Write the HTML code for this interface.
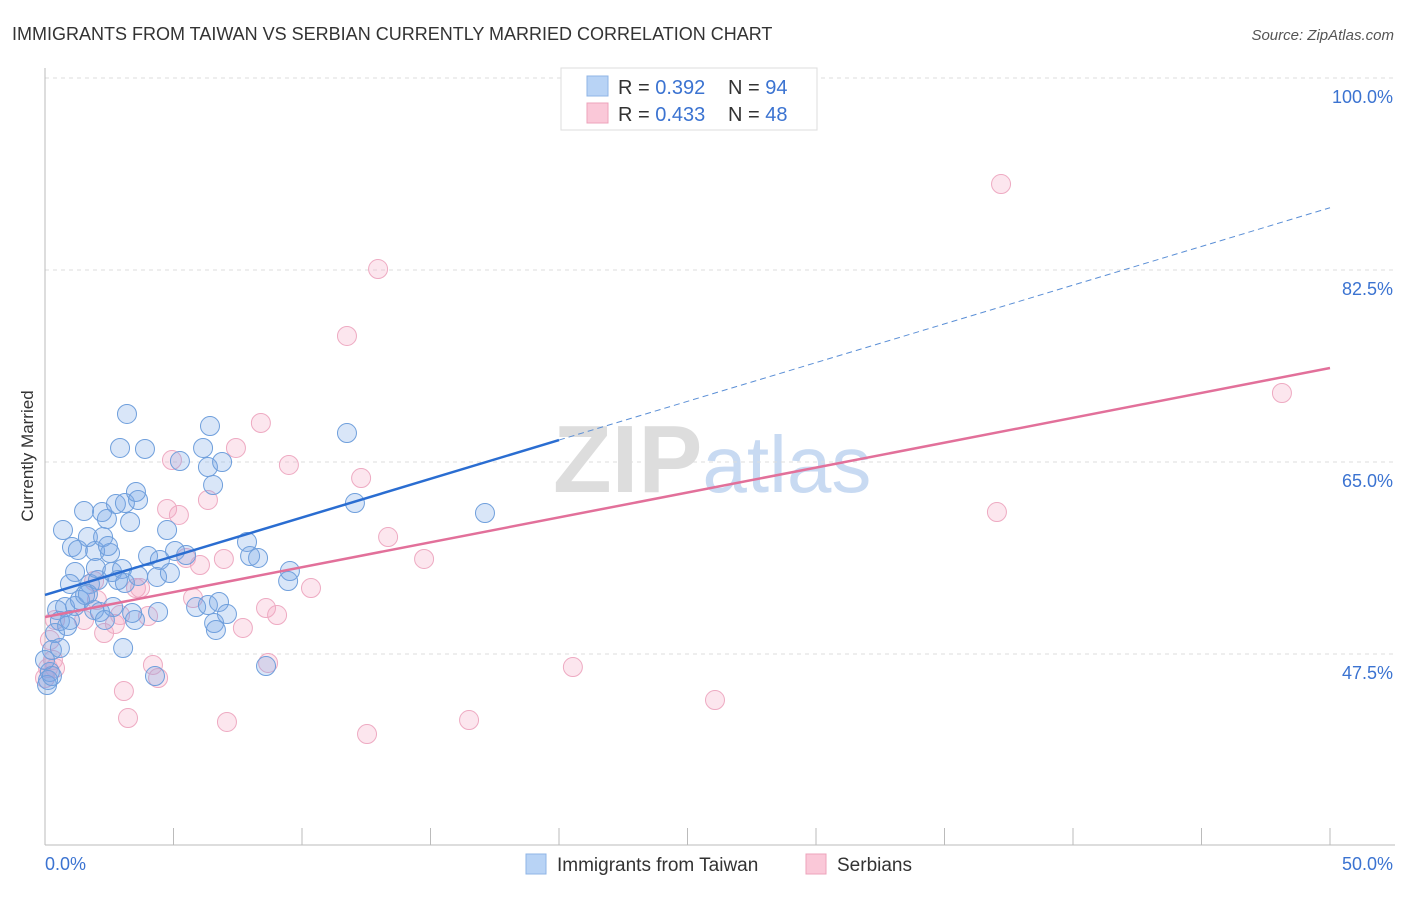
<!DOCTYPE html>
<html><head><meta charset="utf-8"><style>
body{margin:0;background:#fff;font-family:"Liberation Sans",sans-serif;}
svg text{font-family:"Liberation Sans",sans-serif;}
</style></head><body>
<svg id="chart" width="1406" height="892" xmlns="http://www.w3.org/2000/svg">
<text x="12" y="40" font-size="18" fill="#333">IMMIGRANTS FROM TAIWAN VS SERBIAN CURRENTLY MARRIED CORRELATION CHART</text>
<text x="1394" y="40" font-size="15" fill="#555" text-anchor="end" font-style="italic">Source: ZipAtlas.com</text>
<text transform="translate(33,456) rotate(-90)" font-size="17" fill="#333" text-anchor="middle">Currently Married</text>
<text x="553" y="492" font-size="96" font-family="Liberation Serif" fill="#ddd" font-weight="bold">ZIP<tspan fill="#c8daf2" font-family="Liberation Sans" font-weight="normal" font-size="80">atlas</tspan></text>
<g id="grid"></g><g id="axes"></g><g id="pts"></g><g id="trends"></g>
<g>
<rect x="561" y="68" width="256" height="62" fill="#fff" stroke="#ddd"/>
<rect x="587" y="76" width="21" height="20" fill="#b8d3f5" stroke="#8fb4e6"/>
<rect x="587" y="103" width="21" height="20" fill="#fac8d8" stroke="#eda3bb"/>
<text x="618" y="94" font-size="20" fill="#333">R = <tspan fill="#3b73d1">0.392</tspan><tspan x="728">N = </tspan><tspan fill="#3b73d1">94</tspan></text>
<text x="618" y="121" font-size="20" fill="#333">R = <tspan fill="#3b73d1">0.433</tspan><tspan x="728">N = </tspan><tspan fill="#3b73d1">48</tspan></text>
</g>
<g>
<rect x="526" y="854" width="20" height="20" fill="#b8d3f5" stroke="#8fb4e6"/>
<text x="557" y="871" font-size="19" fill="#333">Immigrants from Taiwan</text>
<rect x="806" y="854" width="20" height="20" fill="#fac8d8" stroke="#eda3bb"/>
<text x="837" y="871" font-size="19" fill="#333">Serbians</text>
</g>
</svg>
<script>
const yTicks=[47.5,65,82.5,100];
const yTickLabels=["47.5%","65.0%","82.5%","100.0%"];
const xLabels=["0.0%","50.0%"];
const taiwanX=[3.19,2.92,3.89,5.25,6.42,6.15,6.34,6.89,6.54,11.75,12.06,17.12,1.52,2.22,2.41,2.76,3.11,3.62,3.54,3.31,4.75,1.05,1.28,1.95,1.67,2.26,2.53,2.45,4.01,5.06,5.49,4.47,1.17,0.97,1.75,2.06,1.98,2.61,3.00,3.11,3.62,4.36,4.86,7.86,7.98,8.29,9.53,9.46,0.47,0.78,1.17,1.36,1.56,1.91,2.14,2.65,2.33,3.50,3.39,4.40,5.88,6.34,6.77,7.08,6.58,6.65,0.58,0.86,0.39,0.97,0.27,0.58,3.04,4.28,8.60,0.19,0.12,0.08,0.27,0.0,0.70,1.67,2.84];
const taiwanY=[69.38,66.28,66.19,65.09,68.28,66.28,64.54,65.0,62.90,67.64,61.26,60.35,60.53,60.44,59.80,61.17,61.26,61.54,62.27,59.53,58.80,57.25,56.98,56.89,58.16,58.16,56.70,57.34,56.43,56.89,56.52,56.07,54.97,53.88,53.88,54.24,55.34,54.97,55.25,53.97,54.61,54.52,54.88,57.71,56.43,56.25,55.06,54.15,51.51,51.78,51.87,52.42,52.88,51.51,51.33,51.78,50.60,50.60,51.24,51.33,51.78,51.96,52.24,51.14,50.32,49.69,50.51,50.05,49.41,50.60,47.86,48.04,48.04,45.49,46.40,45.86,45.13,44.67,45.49,46.95,58.80,52.97,54.24];
const serbX=[37.20,12.96,11.75,48.13,8.40,7.43,4.94,9.49,6.34,12.30,4.75,5.21,37.04,13.35,5.49,6.03,6.96,14.75,10.35,3.54,1.91,5.76,8.60,9.03,4.01,7.70,2.30,2.72,1.52,0.39,0.19,0.31,0.39,4.20,4.40,8.68,20.54,3.07,26.07,3.23,7.08,16.50,12.53,0.0,0.12,3.70,2.02,2.92];
const serbY=[90.34,82.59,76.49,71.29,68.56,66.28,65.18,64.73,61.54,63.54,60.72,60.17,60.44,58.16,56.25,55.61,56.16,56.16,53.51,53.51,54.15,52.60,51.69,51.05,50.96,49.87,49.41,50.23,50.60,50.60,48.77,46.95,46.22,46.50,45.31,46.68,46.31,44.12,43.30,41.66,41.30,41.48,40.20,45.31,46.22,53.51,52.42,51.05];
const taiwanTrend=[52.88,0.706];
const serbTrend=[50.87,0.454];
const NS="http://www.w3.org/2000/svg";
const X=v=>45+v*25.7, Y=v=>462-(v-65)*10.97;
function mk(tag,attrs,parent){const e=document.createElementNS(NS,tag);for(const k in attrs)e.setAttribute(k,attrs[k]);document.getElementById(parent).appendChild(e);return e;}
yTicks.forEach((t,i)=>{
 const l=mk('line',{x1:45,x2:1395,y1:Y(t),y2:Y(t),stroke:'#ddd','stroke-dasharray':'4,4'},'grid');
 
 
 const tx=mk('text',{x:1393,y:Y(t)+25,'font-size':18,fill:'#3b73d1','text-anchor':'end'},'grid');
 tx.textContent=yTickLabels[i];
 
 
});
const a1=mk('line',{x1:45,x2:45,y1:68,y2:845,stroke:'#bbb'},'axes');


const a2=mk('line',{x1:45,x2:1395,y1:845,y2:845,stroke:'#bbb'},'axes');


for(let i=0;i<=10;i++){const t=mk('line',{x1:X(i*5),x2:X(i*5),y1:828,y2:845,stroke:'#bbb'},'axes');
 
 }
[[0,'start',45],[50,'end',1393]].forEach((d,i)=>{const t=mk('text',{x:d[2],y:870,'font-size':18,fill:'#3b73d1','text-anchor':d[1]},'axes');t.textContent=xLabels[i];
 
 });
function pts(xs,ys,fill,stroke,name){xs.forEach((x,i)=>{const c=mk('circle',{cx:X(x),cy:Y(ys[i]),r:9.5,fill:fill,stroke:stroke,'stroke-width':1},'pts');
 
 });}
pts(serbX,serbY,'rgba(245,165,195,0.28)','#eeaac2','serbian-point');
pts(taiwanX,taiwanY,'rgba(120,165,230,0.28)','#6f9fdc','taiwan-point');
const f=(tr,x)=>tr[0]+tr[1]*x;
const b1=mk('line',{x1:X(0),y1:Y(f(taiwanTrend,0)),x2:X(20),y2:Y(f(taiwanTrend,20)),stroke:'#2a6dd1','stroke-width':2.5},'trends');


const b2=mk('line',{x1:X(20),y1:Y(f(taiwanTrend,20)),x2:X(50),y2:Y(f(taiwanTrend,50)),stroke:'#5b8fd6','stroke-width':1,'stroke-dasharray':'6,4'},'trends');


const p1=mk('line',{x1:X(0),y1:Y(f(serbTrend,0)),x2:X(50),y2:Y(f(serbTrend,50)),stroke:'#e2709a','stroke-width':2.5},'trends');


</script>
</body></html>
